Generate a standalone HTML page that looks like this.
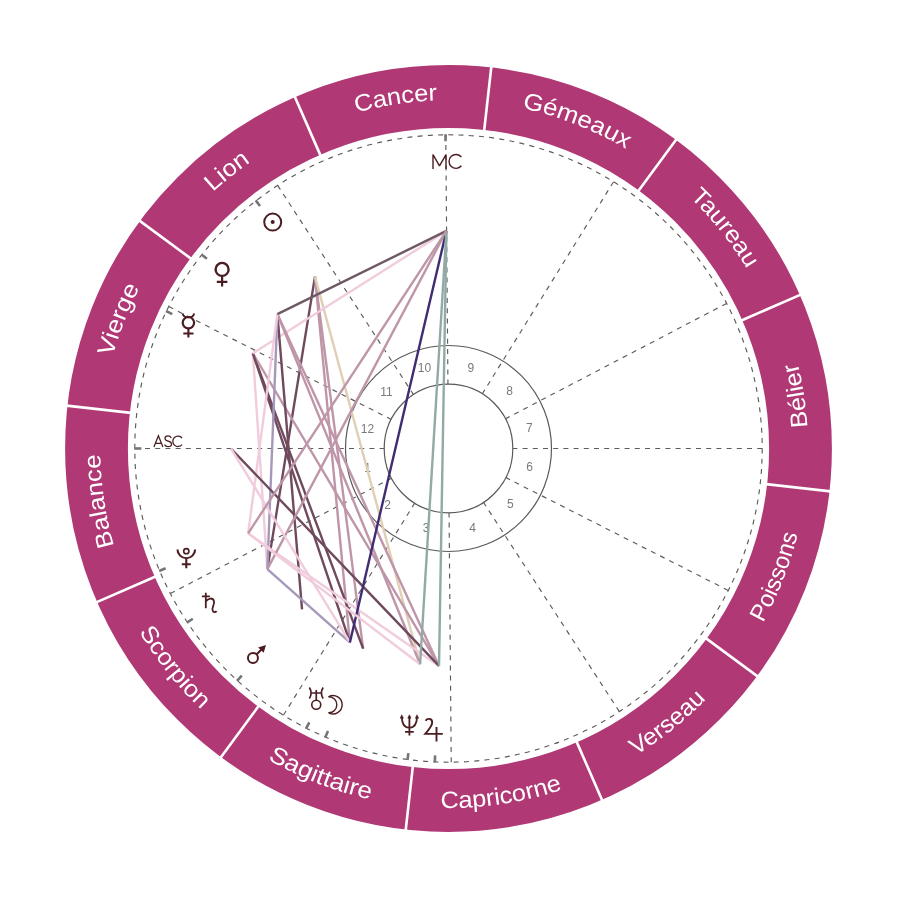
<!DOCTYPE html>
<html lang="fr"><head><meta charset="utf-8"><title>Carte du ciel</title>
<style>html,body{margin:0;padding:0;background:#fff}body{width:897px;height:897px;overflow:hidden}svg{display:block}text{font-family:"Liberation Sans",sans-serif}</style>
</head><body>
<svg width="897" height="897" viewBox="0 0 897 897">
<rect width="897" height="897" fill="#fff"/>
<circle cx="448.5" cy="448.5" r="352" fill="none" stroke="#b03874" stroke-width="62.8"/>
<g stroke="#fff" stroke-width="2.6">
<line x1="130.89" y1="412.87" x2="66.5" y2="405.65"/>
<line x1="155.63" y1="576.45" x2="96.25" y2="602.39"/>
<line x1="258.84" y1="705.74" x2="220.39" y2="757.9"/>
<line x1="412.87" y1="766.11" x2="405.65" y2="830.5"/>
<line x1="576.45" y1="741.37" x2="602.39" y2="800.75"/>
<line x1="705.74" y1="638.16" x2="757.9" y2="676.61"/>
<line x1="766.11" y1="484.13" x2="830.5" y2="491.35"/>
<line x1="741.37" y1="320.55" x2="800.75" y2="294.61"/>
<line x1="638.16" y1="191.26" x2="676.61" y2="139.1"/>
<line x1="484.13" y1="130.89" x2="491.35" y2="66.5"/>
<line x1="320.55" y1="155.63" x2="294.61" y2="96.25"/>
<line x1="191.26" y1="258.84" x2="139.1" y2="220.39"/>
</g>
<defs>
<path id="s0" d="M168.96 656.11A348.2 348.2 0 0 1 120.07 332.84"/>
<path id="s1" d="M95.13 514.63A359.5 359.5 0 0 0 305.73 778.43"/>
<path id="s2" d="M175.54 682.45A359.5 359.5 0 0 0 489.82 805.62"/>
<path id="s3" d="M329.09 787.59A359.5 359.5 0 0 0 662.84 737.11"/>
<path id="s4" d="M514.63 801.87A359.5 359.5 0 0 0 778.43 591.27"/>
<path id="s5" d="M682.45 721.46A359.5 359.5 0 0 0 805.62 407.18"/>
<path id="s6" d="M787.59 567.91A359.5 359.5 0 0 0 737.11 234.16"/>
<path id="s7" d="M586.79 128.94A348.2 348.2 0 0 1 790.76 384.45"/>
<path id="s8" d="M408.48 102.61A348.2 348.2 0 0 1 712.88 221.9"/>
<path id="s9" d="M240.89 168.96A348.2 348.2 0 0 1 564.16 120.07"/>
<path id="s10" d="M128.94 310.21A348.2 348.2 0 0 1 384.45 106.24"/>
<path id="s11" d="M102.61 488.52A348.2 348.2 0 0 1 221.9 184.12"/>
</defs>
<g fill="#fff" font-size="23.6" text-anchor="middle" style="filter:grayscale(1)">
<text textLength="92.93" lengthAdjust="spacingAndGlyphs"><textPath href="#s0" startOffset="50%">Balance</textPath></text>
<text textLength="99.99" lengthAdjust="spacingAndGlyphs"><textPath href="#s1" startOffset="50%">Scorpion</textPath></text>
<text textLength="110.73" lengthAdjust="spacingAndGlyphs"><textPath href="#s2" startOffset="50%">Sagittaire</textPath></text>
<text textLength="124.07" lengthAdjust="spacingAndGlyphs"><textPath href="#s3" startOffset="50%">Capricorne</textPath></text>
<text textLength="90.29" lengthAdjust="spacingAndGlyphs"><textPath href="#s4" startOffset="50%">Verseau</textPath></text>
<text textLength="95.61" lengthAdjust="spacingAndGlyphs"><textPath href="#s5" startOffset="50%">Poissons</textPath></text>
<text textLength="65.16" lengthAdjust="spacingAndGlyphs"><textPath href="#s6" startOffset="50%">Bélier</textPath></text>
<text textLength="91.87" lengthAdjust="spacingAndGlyphs"><textPath href="#s7" startOffset="50%">Taureau</textPath></text>
<text textLength="112.25" lengthAdjust="spacingAndGlyphs"><textPath href="#s8" startOffset="50%">Gémeaux</textPath></text>
<text textLength="82.04" lengthAdjust="spacingAndGlyphs"><textPath href="#s9" startOffset="50%">Cancer</textPath></text>
<text textLength="48.48" lengthAdjust="spacingAndGlyphs"><textPath href="#s10" startOffset="50%">Lion</textPath></text>
<text textLength="74.53" lengthAdjust="spacingAndGlyphs"><textPath href="#s11" startOffset="50%">Vierge</textPath></text>
</g>
<g fill="none" stroke="#5c5c5c" stroke-width="1.15">
<circle cx="448.5" cy="448.5" r="313.7" stroke-dasharray="5 5.26"/>
<line x1="134.8" y1="448.5" x2="384.2" y2="448.5" stroke-dasharray="5 5.2"/>
<line x1="170.37" y1="593.59" x2="391.49" y2="478.24" stroke-dasharray="5 5.2"/>
<line x1="283.43" y1="715.26" x2="414.66" y2="503.18" stroke-dasharray="5 5.2"/>
<line x1="451.24" y1="762.19" x2="449.06" y2="512.8" stroke-dasharray="5 5.2"/>
<line x1="619.35" y1="711.59" x2="483.52" y2="502.43" stroke-dasharray="5 5.2"/>
<line x1="728.26" y1="590.43" x2="505.84" y2="477.59" stroke-dasharray="5 5.2"/>
<line x1="762.2" y1="448.5" x2="512.8" y2="448.5" stroke-dasharray="5 5.2"/>
<line x1="726.63" y1="303.41" x2="505.51" y2="418.76" stroke-dasharray="5 5.2"/>
<line x1="613.57" y1="181.74" x2="482.34" y2="393.82" stroke-dasharray="5 5.2"/>
<line x1="445.76" y1="134.81" x2="447.94" y2="384.2" stroke-dasharray="5 5.2"/>
<line x1="277.65" y1="185.41" x2="413.48" y2="394.57" stroke-dasharray="5 5.2"/>
<line x1="168.74" y1="306.57" x2="391.16" y2="419.41" stroke-dasharray="5 5.2"/>
</g>
<g fill="none" stroke="#5a5a5a" stroke-width="1.2">
<circle cx="448.5" cy="448.5" r="103.0"/><circle cx="448.5" cy="448.5" r="64.3"/>
</g>
<g fill="#7a7a7a" font-size="12" text-anchor="middle" style="filter:grayscale(1)">
<text x="367.6" y="471.73">1</text>
<text x="387.48" y="508.6">2</text>
<text x="426.06" y="532.12">3</text>
<text x="472.51" y="531.67">4</text>
<text x="510.45" y="507.58">5</text>
<text x="529.52" y="471.28">6</text>
<text x="529.4" y="432.07">7</text>
<text x="509.52" y="395.2">8</text>
<text x="470.94" y="371.68">9</text>
<text x="424.49" y="372.13">10</text>
<text x="386.55" y="396.22">11</text>
<text x="367.48" y="432.52">12</text>
</g>
<g stroke="#757575" stroke-width="2.6">
<line x1="445.48" y1="134.31" x2="445.55" y2="141.31"/>
<line x1="255.71" y1="200.4" x2="260" y2="205.93"/>
<line x1="201.41" y1="254.41" x2="206.92" y2="258.74"/>
<line x1="165.98" y1="311.01" x2="172.27" y2="314.07"/>
<line x1="134.3" y1="448.5" x2="141.3" y2="448.5"/>
<line x1="159.17" y1="571.02" x2="165.62" y2="568.29"/>
<line x1="186.95" y1="622.6" x2="192.78" y2="618.73"/>
<line x1="237.04" y1="680.89" x2="241.75" y2="675.71"/>
<line x1="306.1" y1="728.58" x2="309.27" y2="722.34"/>
<line x1="325.23" y1="737.51" x2="327.97" y2="731.07"/>
<line x1="407.49" y1="760.01" x2="408.4" y2="753.07"/>
<line x1="434.79" y1="762.4" x2="435.1" y2="755.41"/>
</g>
<g fill="none" stroke-width="2.4" stroke-linecap="butt">
<line x1="314.98" y1="276.68" x2="363.13" y2="648.65" stroke="#bf95a8"/>
<line x1="314.98" y1="276.68" x2="267.36" y2="569.08" stroke="#6f4a5d"/>
<line x1="314.98" y1="276.68" x2="349.88" y2="642.47" stroke="#bf95a8"/>
<line x1="314.98" y1="276.68" x2="420.1" y2="664.24" stroke="#e0cfb4"/>
<line x1="252.84" y1="353.28" x2="363.13" y2="648.65" stroke="#6f4a5d"/>
<line x1="252.84" y1="353.28" x2="439.01" y2="665.89" stroke="#bf95a8"/>
<line x1="252.84" y1="353.28" x2="267.36" y2="569.08" stroke="#f0ccdc"/>
<line x1="252.84" y1="353.28" x2="349.88" y2="642.47" stroke="#6f4a5d"/>
<line x1="446.41" y1="230.91" x2="252.84" y2="353.28" stroke="#f0ccdc"/>
<line x1="277.38" y1="314.08" x2="302.05" y2="609.44" stroke="#6f4a5d"/>
<line x1="277.38" y1="314.08" x2="439.01" y2="665.89" stroke="#bf95a8"/>
<line x1="277.38" y1="314.08" x2="267.36" y2="569.08" stroke="#a698ba"/>
<line x1="277.38" y1="314.08" x2="420.1" y2="664.24" stroke="#bf95a8"/>
<line x1="277.38" y1="314.08" x2="248.12" y2="533.35" stroke="#f0ccdc"/>
<line x1="446.41" y1="230.91" x2="277.38" y2="314.08" stroke="#6e5a67"/>
<line x1="248.12" y1="533.35" x2="439.01" y2="665.89" stroke="#f0ccdc"/>
<line x1="230.9" y1="448.5" x2="439.01" y2="665.89" stroke="#6f4a5d"/>
<line x1="446.41" y1="230.91" x2="439.01" y2="665.89" stroke="#92aaa6"/>
<line x1="267.36" y1="569.08" x2="349.88" y2="642.47" stroke="#a698ba"/>
<line x1="446.41" y1="230.91" x2="267.36" y2="569.08" stroke="#bf95a8"/>
<line x1="230.9" y1="448.5" x2="349.88" y2="642.47" stroke="#f0ccdc"/>
<line x1="446.41" y1="230.91" x2="349.88" y2="642.47" stroke="#402c72"/>
<line x1="248.12" y1="533.35" x2="420.1" y2="664.24" stroke="#f0ccdc"/>
<line x1="446.41" y1="230.91" x2="420.1" y2="664.24" stroke="#92aaa6"/>
<line x1="446.41" y1="230.91" x2="248.12" y2="533.35" stroke="#bf95a8"/>
</g>
<g fill="none" stroke="#4b1d22" stroke-width="1.9" stroke-linecap="butt" stroke-linejoin="miter">
<g transform="translate(272.7 222.1)"><circle r="8.5" stroke-width="2"/><circle r="2" fill="#4b1d22" stroke="none"/></g>
<g transform="translate(222.1 269.4)" stroke-width="2.4"><circle r="6.5"/><path d="M0 6.5V17.2M-5.3 12.5H5.3" stroke-width="2.2"/></g>
<g transform="translate(188.4 322.7)" stroke-width="2.2"><circle r="5.7"/><path d="M0 5.7V14.8M-5.1 10.8H5.1" stroke-width="2.1"/><path d="M-5.8 -9.2Q-4.6 -5 0 -5.3Q4.6 -5 5.8 -9.2" stroke-width="1.9"/></g>
<g transform="translate(186.3 551.2)" stroke-width="2.1"><circle r="2.6" stroke-width="1.6"/><path d="M-8.8 -1.8A8.8 8.8 0 0 0 8.8 -1.8M0 7.6V17M-4.5 13H4.5"/></g>
<g transform="translate(209.7 603)" stroke-width="1.8"><path d="M-3.9 -10.2V5.2M-7.8 -6.6H0.2M-3.9 -1.6C-1.5 -5.2 3.2 -5.6 4.3 -1.8C5.4 2 1.2 4.6 3.2 8C4.2 9.6 6 9.4 6.8 8"/></g>
<g transform="translate(252.95 658)" stroke-width="2"><circle r="5"/><path d="M3.5 -3.5L9 -9"/><path d="M13 -13.05L5.2 -10.4L10.75 -5.15Z" fill="#4b1d22" stroke="none"/></g>
<g transform="translate(316.25 693)" stroke-width="1.7"><path d="M-6.9 -5.5Q-3.4 0 -6.9 5.5M6.9 -5.5Q3.4 0 6.9 5.5M-5.2 0H5.2M0 -3V7.2"/><circle cy="11.7" r="4.5" stroke-width="1.6"/></g>
<path d="M328.8 696.7A9.1 9.1 0 1 1 328.8 712.8A8.05 8.05 0 0 0 328.8 696.7Z" stroke-width="1.4" stroke-linejoin="round"/>
<g transform="translate(409.4 716)" stroke-width="1.8"><path d="M0 0.5V19.6M-7.6 1Q-7.4 11.6 0 11.8Q7.4 11.6 7.6 1M-4.4 15.8H4.4"/><path d="M-9.2 2.2L-7.6 -1.2L-6 2.2ZM-1.6 2.2L0 -1.2L1.6 2.2ZM6 2.2L7.6 -1.2L9.2 2.2Z" fill="#4b1d22" stroke-width="0.6"/></g>
<g transform="translate(424.4 718)"><path d="M1.2 2.8C2 1.3 3.3 0.9 4.6 0.9C6.6 0.9 7.8 2.4 7.8 4.4C7.8 7.4 5 11 0.8 15.9H18.4M12.1 9V23.6" stroke-width="1.9"/></g>
</g>
<g fill="none" stroke="#4b1d22" stroke-width="1.4" stroke-linejoin="miter" stroke-linecap="butt" role="img" aria-label="MC ASC">
<path d="M433 168.9V154.6L439.5 165.8L446 154.6V168.9" stroke-linejoin="bevel"/>
<path d="M461.4 157A6.95 6.95 0 1 0 461.4 165.8"/>
<path d="M153.9 447L158.4 435.8L162.9 447M155.4 443.3H161.4" stroke-width="1.25"/>
<path d="M171.3 437.8C170.4 436.4 169.4 435.9 168.1 435.9C166.3 435.9 165 437 165 438.5C165 442.2 171.5 440.2 171.5 443.9C171.5 445.5 170 446.6 168 446.6C166.4 446.6 165.2 445.9 164.5 444.6" stroke-width="1.25"/>
<path d="M182 438A5.2 5.2 0 1 0 182 444.6" stroke-width="1.25"/>
</g>
</svg></body></html>
